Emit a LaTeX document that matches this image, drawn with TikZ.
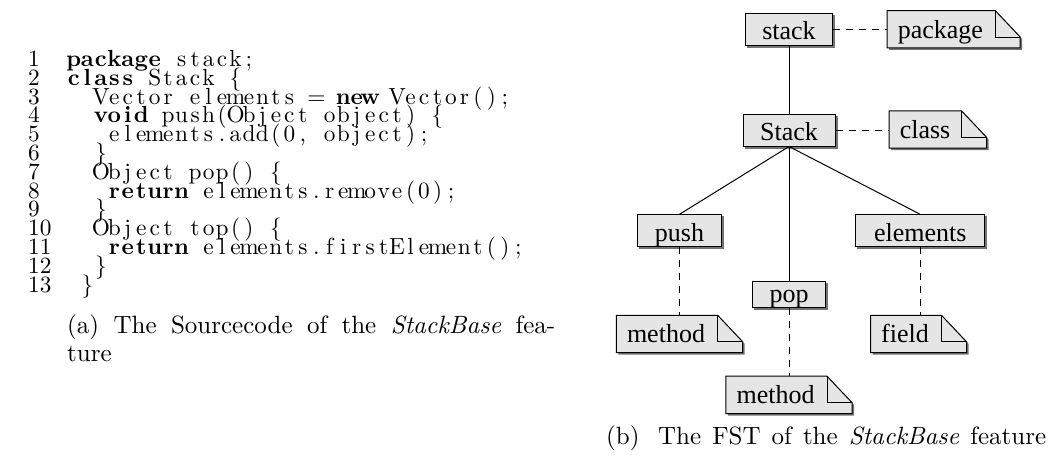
\documentclass[tikz,border=0pt]{standalone}
\usepackage{fontspec}
\newfontfamily\treefont{Liberation Serif}
\usetikzlibrary{backgrounds}
\definecolor{boxgray}{gray}{0.9}
\definecolor{shadowc}{gray}{0.45}
\newlength\cw \setlength{\cw}{5.78pt}
\newcommand*\fxend{FXEND}
\newcommand\fxloop[1]{\ifx\fxend#1\else\makebox[\cw]{#1}\expandafter\fxloop\fi}
\newcommand\fx[1]{\fxloop#1\fxend}
\newcommand\fxb[1]{{\bfseries\fxloop#1\fxend}}
\newcommand\codesz[1]{\scalebox{2.33}{\fontsize{10pt}{12pt}\selectfont #1}}
\newcommand\capsz[1]{\scalebox{2.5}{\fontsize{10pt}{12pt}\selectfont #1}}
\newcommand\notedeco[1]{%
  \fill[shadowc] ([shift={(2,2)}]#1.north west) -- ([shift={(-23,2)}]#1.north east) -- ([shift={(2,28.5)}]#1.north east) -- ([shift={(2,2)}]#1.south east) -- ([shift={(2,2)}]#1.south west) -- cycle;
  \filldraw[outline,fill=boxgray] (#1.north west) -- ([shift={(-25,0)}]#1.north east) -- ([shift={(0,26.5)}]#1.north east) -- (#1.south east) -- (#1.south west) -- cycle;
  \draw[outline] ([shift={(-25,0)}]#1.north east) |- ([shift={(0,26.5)}]#1.north east);
}
\newcommand\boxshadow[1]{\fill[shadowc] ([shift={(2,2)}]#1.north west) rectangle ([shift={(2,2)}]#1.south east);}
\tikzset{
  outline/.style={draw=black, line width=1pt, line join=miter},
  fstbox/.style={draw, fill=boxgray, line width=1pt, inner sep=0pt, minimum height=32pt,
    text height=20.6pt, text depth=0pt, font=\treefont\fontsize{26pt}{30pt}\selectfont},
  notebox/.style={inner sep=0pt, minimum height=37pt, text height=17.6pt, text depth=0pt,
    font=\treefont\fontsize{26pt}{30pt}\selectfont},
  codeline/.style={anchor=base west, inner sep=0pt, text height=12pt, text depth=4pt},
  lnum/.style={anchor=base west, inner sep=0pt, text height=12pt, text depth=4pt},
  captxt/.style={anchor=base west, inner sep=0pt},
  tree/.style={line width=1pt},
  treedash/.style={line width=1pt, dash pattern=on 7pt off 6pt}
}
\begin{document}
\begin{tikzpicture}[x=1pt,y=-1pt]
\useasboundingbox (0,0) rectangle (1052,464);
% ---- code listing ----
\node[lnum] (n1) at (28,66.5) {\codesz{1}};
\node[lnum] (n2) at (28,85.3) {\codesz{2}};
\node[lnum] (n3) at (28,104.1) {\codesz{3}};
\node[lnum] (n4) at (28,122.9) {\codesz{4}};
\node[lnum] (n5) at (28,141.7) {\codesz{5}};
\node[lnum] (n6) at (28,160.5) {\codesz{6}};
\node[lnum] (n7) at (28,179.3) {\codesz{7}};
\node[lnum] (n8) at (28,198.1) {\codesz{8}};
\node[lnum] (n9) at (28,216.9) {\codesz{9}};
\node[lnum] (n10) at (28,235.7) {\codesz{10}};
\node[lnum] (n11) at (28,254.5) {\codesz{11}};
\node[lnum] (n12) at (28,273.3) {\codesz{12}};
\node[lnum] (n13) at (28,292.1) {\codesz{13}};
\node[codeline] (l1) at (67,66.5) {\codesz{\fxb{package}\fx{~stack;}}};
\node[codeline] (l2) at (67,85.3) {\codesz{\fxb{class}\fx{~Stack~\{}}};
\node[codeline] (l3) at (67,104.1) {\codesz{\fx{~~Vector~elements~=~}\fxb{new}\fx{~Vector();}}};
\node[codeline] (l4) at (67,122.9) {\codesz{\fx{~~}\fxb{void}\fx{~push(Object~object)~\{}}};
\node[codeline] (l5) at (67,141.7) {\codesz{\fx{~~~elements.add(0,~object);}}};
\node[codeline] (l6) at (67,160.5) {\codesz{\fx{~~\}}}};
\node[codeline] (l7) at (67,179.3) {\codesz{\fx{~~Object~pop()~\{}}};
\node[codeline] (l8) at (67,198.1) {\codesz{\fx{~~~}\fxb{return}\fx{~elements.remove(0);}}};
\node[codeline] (l9) at (67,216.9) {\codesz{\fx{~~\}}}};
\node[codeline] (l10) at (67,235.7) {\codesz{\fx{~~Object~top()~\{}}};
\node[codeline] (l11) at (67,254.5) {\codesz{\fx{~~~}\fxb{return}\fx{~elements.firstElement();}}};
\node[codeline] (l12) at (67,273.3) {\codesz{\fx{~~\}}}};
\node[codeline] (l13) at (67,292.1) {\codesz{\fx{~\}}}};
\node[captxt] (capa1) at (67,333) {\capsz{\makebox[195.2pt][s]{(a) The Sourcecode of the \textit{StackBase} fea-}}};
\node[captxt] (capa2) at (67,361) {\capsz{ture}};
% ---- FST ----
\node[fstbox, minimum width=87pt] (stk) at (789,29.2) {stack};
\node[fstbox, minimum width=92pt] (Stk) at (789,130) {Stack};
\node[fstbox, minimum width=84pt] (push) at (679.5,230.8) {push};
\node[fstbox, minimum width=73pt, minimum height=26.3pt, text height=14.9pt] (pop) at (789,294.8) {pop};
\node[fstbox, minimum width=129pt] (elem) at (920.2,230.8) {elements};
\node[notebox] (pkg) at (953.6,29.2) {\makebox[132.7pt][l]{\hspace{10.5pt}package}};
\node[notebox] (cls) at (937.8,129.5) {\makebox[97pt][l]{\hspace{10.5pt}class}};
\node[notebox] (m1) at (679.5,334) {\makebox[126pt][l]{\hspace{10.5pt}method}};
\node[notebox] (fld) at (918.5,334) {\makebox[95.6pt][l]{\hspace{10.5pt}field}};
\node[notebox] (m2) at (789,394.9) {\makebox[125.7pt][l]{\hspace{10.5pt}method}};
\begin{scope}[on background layer]
  \boxshadow{stk}\boxshadow{Stk}\boxshadow{push}\boxshadow{pop}\boxshadow{elem}
  \notedeco{pkg}\notedeco{cls}\notedeco{m1}\notedeco{fld}\notedeco{m2}
\end{scope}
\draw[tree] (stk.south) -- (Stk.north);
\draw[tree] (Stk.south) -- (push.north);
\draw[tree] (Stk.south) -- (pop.north);
\draw[tree] (Stk.south) -- (elem.north);
\draw[treedash] (stk.east) -- (stk.east -| pkg.west);
\draw[treedash] (Stk.east) -- (Stk.east -| cls.west);
\draw[treedash] (push.south) -- (push.south |- m1.north);
\draw[treedash] (pop.south) -- (pop.south |- m2.north);
\draw[treedash] (elem.south) -- (elem.south |- fld.north);
\node[captxt] (capb) at (606,444) {\capsz{\makebox[176pt][s]{(b)\hspace{0.3em} The FST of the \textit{StackBase} feature}}};
\end{tikzpicture}
\end{document}
